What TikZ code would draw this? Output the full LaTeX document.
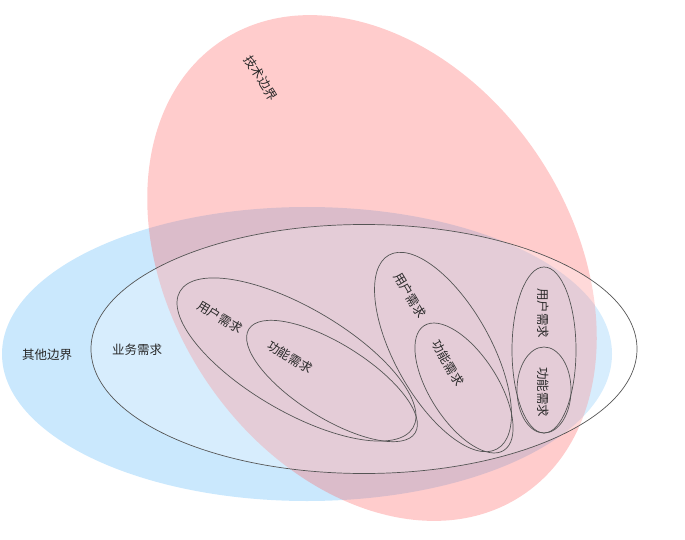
\documentclass[tikz,border=0pt]{standalone}
\usepackage{fontspec}
\setmainfont{Noto Sans CJK SC}
\usetikzlibrary{shapes.geometric}

\definecolor{otherblue}{RGB}{202,232,253}
\definecolor{techred}{RGB}{255,100,100}
\definecolor{outline}{RGB}{85,85,85}
\definecolor{labelgray}{RGB}{40,40,40}

\tikzset{
  region/.style = {ellipse, inner sep = 0pt, outer sep = 0pt},
  req/.style = {region, draw = outline, line width = 0.7pt},
  reqlabel/.style = {text = labelgray, font = \fontsize{12.5}{15}\selectfont, inner sep = 0pt}
}

\begin{document}
\begin{tikzpicture}[x = 1pt, y = 1pt]
    \useasboundingbox (0,0) rectangle (685,539);

    % the two boundaries
    \node[region, fill = otherblue, minimum width = 610pt, minimum height = 294pt]
      (other-bound) at (307,185) {};
    \node[region, fill = techred, fill opacity = 0.33,
      minimum width = 401pt, minimum height = 545pt, rotate = 33.4]
      (tech-bound) at (372,271) {};

    % business requirements
    \node[req, fill = white, fill opacity = 0.25,
      minimum width = 546pt, minimum height = 249pt]
      (biz-req) at (364,190) {};

    % left group
    \node[req, minimum width = 270pt, minimum height = 104pt, rotate = -30.3]
      (user-req-1) at (296.5,179.5) {};
    \node[req, minimum width = 196pt, minimum height = 74pt, rotate = -32]
      (func-req-1) at (332,158) {};

    % middle group
    \node[req, minimum width = 96pt, minimum height = 222pt, rotate = 29.2]
      (user-req-2) at (443,187) {};
    \node[req, minimum width = 68pt, minimum height = 148pt, rotate = 32.6]
      (func-req-2) at (464,151) {};

    % right group
    \node[req, minimum width = 64pt, minimum height = 166pt]
      (user-req-3) at (544,189) {};
    \node[req, minimum width = 54pt, minimum height = 86pt]
      (func-req-3) at (544,149) {};

    % labels
    \node[reqlabel, rotate = -58] (tech-bound-t) at (261,461) {技术边界};
    \node[reqlabel] (other-bound-t) at (47,184) {其他边界};
    \node[reqlabel] (biz-req-t) at (137,189) {业务需求};
    \node[reqlabel, rotate = -31] (user-req-1-t) at (220,222) {用户需求};
    \node[reqlabel, rotate = -31] (func-req-1-t) at (290,182) {功能需求};
    \node[reqlabel, rotate = -59] (user-req-2-t) at (410,244) {用户需求};
    \node[reqlabel, rotate = -60] (func-req-2-t) at (448,176) {功能需求};
    \node[reqlabel, rotate = -90] (user-req-3-t) at (543,226) {用户需求};
    \node[reqlabel, rotate = -90] (func-req-3-t) at (543,147) {功能需求};
  \end{tikzpicture}
\end{document}
